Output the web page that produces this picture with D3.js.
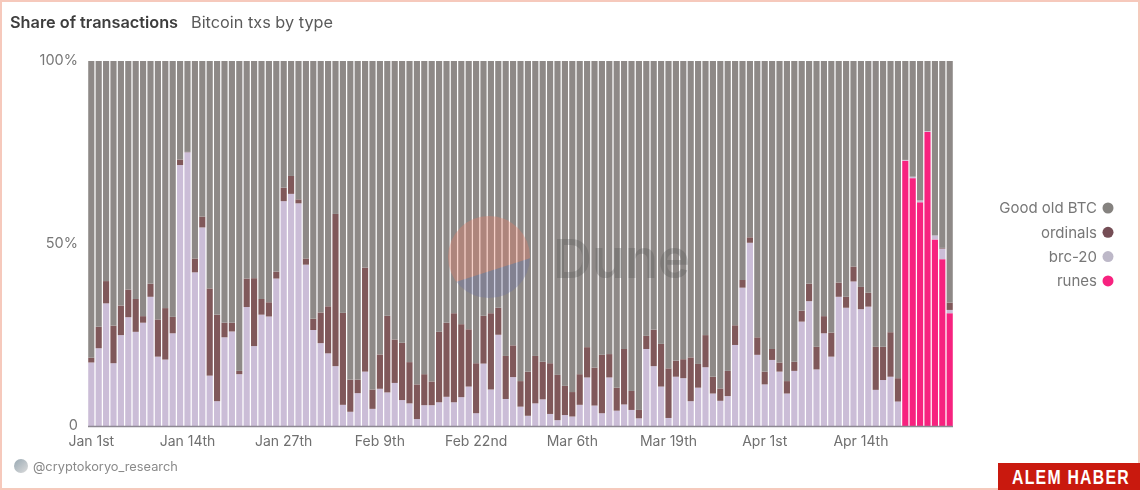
<!DOCTYPE html>
<html>
<head>
<meta charset="utf-8">
<script src="https://cdn.jsdelivr.net/npm/d3@7/dist/d3.min.js"></script>
<style>
html,body{margin:0;padding:0;background:#fff;overflow:hidden}
svg{display:block}
text{font-family:Inter,"Noto Sans",sans-serif}
</style>
</head>
<body>
<svg id="c" width="1140" height="490"></svg>
<script>
const brc20 = [17.4,21.3,33.6,17.2,24.9,29.8,25.8,28.3,35.4,19,18.2,25.4,71.5,75,42.1,54.4,13.8,6.8,24.3,25.9,14.2,32.6,21.9,30.5,30,40.4,61.6,63.6,61,44.2,26.3,22.7,19.9,16.4,5.8,3.9,9,14.9,4.7,10.2,
 9.2,11.8,7.1,6.2,1.9,5.7,5.7,6.5,8,6.5,7.9,10.8,3.5,17.1,10,25,7.4,13.4,5.3,2.8,6.2,7.3,3.3,1.6,3,2.6,5.8,13.3,5.6,3.5,13.3,4.2,5.9,4.4,2.1,21.1,16.4,10.8,2.2,
 13.5,13.1,6.8,10.5,16.1,8.9,6.9,8.2,22.2,37.9,50.2,19.5,11.4,18.1,14.9,8.9,15.1,28.6,34.2,15.5,25.4,19,35.4,32.4,39.6,32,32.7,9.9,12.6,13.5,6.7,
 0.2,0.4,0.5,0.2,1.1,2.9,0.9];
const ordinals = [1.3,5.9,6.1,10.3,8.1,7.6,9,1.8,3.6,10.2,14.1,4.5,1.5,0.1,3.8,3,23.9,23.7,4,2.4,0.9,7.8,18.6,4.3,3.9,1.9,3.7,4.9,1.1,1.7,3.1,8.4,12.9,41.7,25.2,8.8,3.7,28.5,5.3,9.4,
 21,11.9,15.7,11.3,9.5,8.5,6.5,19.3,20.3,24.4,20,15.7,13.7,13.1,20.9,7.4,11.8,8.7,7,12.1,13,10.3,13.9,12.4,8,6.7,8.4,8.3,10.4,16,6.4,6.3,15.2,5.2,2.3,3.6,10,11.7,13.6,
 4.4,5.2,12,6.5,8.8,4.6,3.4,6.9,5.4,2.1,1.5,4.8,3.5,3,2.5,3.4,2.5,3,4.8,6.2,4.7,6.6,3.9,3,4.1,6.1,3.8,11.8,9.1,12.2,6.4,
 0,0,0,0,0,0.2,2];
const runes = [...new Array(110).fill(0),72.7,67.9,61.3,80.6,51.1,45.7,30.9];
const goodOldBtc = brc20.map((v,i)=>100-v-ordinals[i]-runes[i]);
const days = d3.range(117);
const tickDays = [0,13,26,39,52,65,78,91,104];
const tickLabels = ["Jan 1st","Jan 14th","Jan 27th","Feb 9th","Feb 22nd","Mar 6th","Mar 19th","Apr 1st","Apr 14th"];
const seriesNames = ["Good old BTC","ordinals","brc-20","runes"];
const seriesColors = ["#8e8987","#80585a","#cbbdd7","#f7237f"];

const rows = days.map(i=>({i,runes:runes[i],brc:brc20[i],ord:ordinals[i],good:goodOldBtc[i]}));
const stack = d3.stack().keys(["runes","brc","ord","good"])(rows);
const colorByKey = {runes:seriesColors[3],brc:seriesColors[2],ord:seriesColors[1],good:seriesColors[0]};

const svg = d3.select("#c");
const x = d3.scaleBand().domain(days).range([88,953]).paddingInner(0.17).paddingOuter(0.03);
const y = d3.scaleLinear().domain([0,100]).range([426,61]);

const defs = svg.append("defs");
defs.append("filter").attr("id","soft").attr("x",0).attr("y",0).attr("width",1).attr("height",1)
  .append("feGaussianBlur").attr("stdDeviation",0.45);

svg.append("rect").attr("x",1).attr("y",1).attr("width",1138).attr("height",488)
  .attr("fill","#fff").attr("stroke","#f6c9bc").attr("stroke-width",2);

const body = svg.append("g").attr("filter","url(#soft)");

body.append("rect").attr("width",1140).attr("height",490).attr("fill","#fff").attr("fill-opacity",0);

body.append("text").attr("x",10).attr("y",28).attr("font-size",16.3).attr("font-weight",600)
  .attr("fill","#3d3d3d").text("Share of transactions");
body.append("text").attr("x",191).attr("y",28).attr("font-size",16.3)
  .attr("fill","#5a5a5a").text("Bitcoin txs by type");

body.append("g").selectAll("g").data(stack).join("g")
  .attr("fill",d=>colorByKey[d.key])
  .selectAll("rect").data(d=>d).join("rect")
  .attr("x",d=>x(d.data.i))
  .attr("width",x.bandwidth())
  .attr("y",d=>y(d[1]))
  .attr("height",d=>Math.max(0,y(d[0])-y(d[1])));

// baseline
body.append("line").attr("x1",88).attr("x2",953).attr("y1",y(0)+0.5).attr("y2",y(0)+0.5)
  .attr("stroke","#8d8892").attr("stroke-width",1.5);

// y axis
const yAxis = body.append("g").attr("transform","translate(78,-1)")
  .call(d3.axisLeft(y).tickValues([0,50,100]).tickSize(0).tickPadding(0)
    .tickFormat(d=>d===0?"0":d+"%"));
yAxis.select(".domain").remove();
yAxis.selectAll("text").attr("font-size",14.5).attr("fill","#777").style("font-family","Inter,'Noto Sans',sans-serif");

// x axis
const xAxis = body.append("g").attr("transform","translate(0,436)")
  .call(d3.axisBottom(x).tickValues(tickDays).tickSize(0).tickPadding(0)
    .tickFormat(d=>tickLabels[tickDays.indexOf(d)]));
xAxis.select(".domain").remove();
xAxis.selectAll("text").attr("font-size",14).attr("fill","#6f6f6f").style("font-family","Inter,'Noto Sans',sans-serif");

// Dune watermark
defs.append("clipPath").attr("id","logo").append("circle").attr("cx",489).attr("cy",257).attr("r",41);
const mark = body.append("g").attr("clip-path","url(#logo)");
mark.append("polygon").attr("points","440,210 540,210 540,255 440,287").attr("fill","#e8806a").attr("opacity",0.36);
mark.append("polygon").attr("points","440,287 540,255 540,305 440,305").attr("fill","#6a6fa8").attr("opacity",0.32);
body.append("text").attr("x",553).attr("y",278).attr("font-size",54).attr("font-weight",600)
  .attr("fill","#555").attr("opacity",0.3).style("font-family","Inter,sans-serif").text("Dune");

// legend
const leg = body.append("g").selectAll("g").data(seriesNames).join("g")
  .attr("transform",(d,i)=>`translate(0,${208+i*24.3})`);
leg.append("text").attr("x",1097).attr("y",0).attr("dy","0.35em").attr("text-anchor","end")
  .attr("font-size",15).attr("fill","#777").text(d=>d);
leg.append("circle").attr("cx",1108).attr("r",5.5).attr("fill",(d,i)=>i===2?"#bdb8c8":i===0?"#85827f":i===1?"#744d55":seriesColors[i]);

// footer
const grad = defs.append("linearGradient").attr("id","av").attr("x1",0).attr("y1",0).attr("x2",1).attr("y2",1);
grad.append("stop").attr("offset",0).attr("stop-color","#98a8b2");
grad.append("stop").attr("offset",1).attr("stop-color","#dcdcdc");
body.append("circle").attr("cx",21).attr("cy",466).attr("r",7).attr("fill","url(#av)");
body.append("text").attr("x",33).attr("y",471).attr("font-size",12.8).attr("fill","#8a8a8a").text("@cryptokoryo_research");

svg.append("rect").attr("x",998).attr("y",463).attr("width",142).attr("height",27).attr("fill","#c9190e");
svg.append("text").attr("transform","translate(1012,484) scale(0.79,1)")
  .attr("font-size",20).attr("font-weight",700).attr("letter-spacing",1.6)
  .attr("fill","#fff").style("font-family","'Liberation Sans',sans-serif").text("ALEM HABER");
</script>
</body>
</html>
